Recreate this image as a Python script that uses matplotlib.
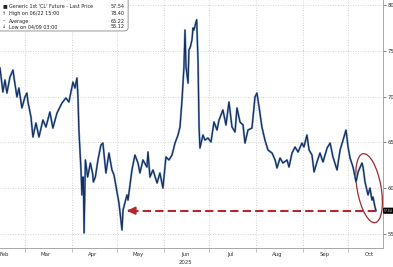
import numpy as np
import pandas as pd
import matplotlib
matplotlib.use("Agg")
import matplotlib.pyplot as plt
import matplotlib.dates as mdates
from matplotlib.patches import Ellipse, FancyBboxPatch
from matplotlib.transforms import ScaledTranslation, blended_transform_factory

plt.rcParams['font.family'] = ['DejaVu Sans']

# WTI generic 1st future
dates = [
    "2025-02-12 12:00", "2025-02-14 10:00", "2025-02-15 19:00", "2025-02-17 02:00", "2025-02-19 02:00",
    "2025-02-21 02:00", "2025-02-21 17:00", "2025-02-23 17:00", "2025-02-25 00:00", "2025-02-27 00:00",
    "2025-03-01 00:00", "2025-03-02 07:00", "2025-03-03 00:00", "2025-03-05 00:00", "2025-03-06 07:00",
    "2025-03-08 07:00", "2025-03-10 07:00", "2025-03-12 22:00", "2025-03-14 22:00", "2025-03-17 12:00",
    "2025-03-19 12:00", "2025-03-22 05:00", "2025-03-25 12:00", "2025-03-28 02:00", "2025-03-30 02:00",
    "2025-04-01 19:00", "2025-04-03 02:00", "2025-04-04 10:00", "2025-04-05 02:00", "2025-04-05 17:00",
    "2025-04-07 02:00", "2025-04-07 17:00", "2025-04-08 10:00", "2025-04-08 18:00", "2025-04-09 03:00",
    "2025-04-10 00:00", "2025-04-11 12:00", "2025-04-13 07:00", "2025-04-14 17:00", "2025-04-15 07:00",
    "2025-04-16 14:00", "2025-04-18 07:00", "2025-04-20 07:00", "2025-04-21 14:00", "2025-04-23 14:00",
    "2025-04-25 14:00", "2025-04-27 14:00", "2025-04-28 22:00", "2025-04-30 22:00", "2025-05-02 05:00",
    "2025-05-04 05:00", "2025-05-04 22:00", "2025-05-07 12:00", "2025-05-08 05:00", "2025-05-10 19:00",
    "2025-05-12 19:00", "2025-05-14 19:00", "2025-05-16 02:00", "2025-05-18 02:00", "2025-05-20 17:00",
    "2025-05-21 10:00", "2025-05-22 17:00", "2025-05-24 17:00", "2025-05-27 10:00", "2025-05-29 07:00",
    "2025-05-31 07:00", "2025-06-02 07:00", "2025-06-04 07:00", "2025-06-06 07:00", "2025-06-08 07:00",
    "2025-06-10 07:00", "2025-06-11 14:00", "2025-06-12 22:00", "2025-06-14 05:00", "2025-06-14 22:00",
    "2025-06-15 14:00", "2025-06-16 22:00", "2025-06-17 12:00", "2025-06-18 10:00", "2025-06-19 12:00",
    "2025-06-20 05:00", "2025-06-20 19:00", "2025-06-22 15:00", "2025-06-23 12:00", "2025-06-24 05:00",
    "2025-06-24 19:00", "2025-06-26 19:00", "2025-06-28 02:00", "2025-06-30 02:00", "2025-07-02 02:00",
    "2025-07-04 02:00", "2025-07-06 02:00", "2025-07-07 10:00", "2025-07-10 00:00", "2025-07-12 00:00",
    "2025-07-14 00:00", "2025-07-16 00:00", "2025-07-18 00:00", "2025-07-19 07:00", "2025-07-21 07:00",
    "2025-07-23 07:00", "2025-07-24 14:00", "2025-07-26 14:00", "2025-07-29 05:00", "2025-07-31 05:00",
    "2025-08-01 12:00", "2025-08-02 22:00", "2025-08-04 19:00", "2025-08-06 19:00", "2025-08-08 19:00",
    "2025-08-11 12:00", "2025-08-13 12:00", "2025-08-14 19:00", "2025-08-16 19:00", "2025-08-18 17:00",
    "2025-08-21 10:00", "2025-08-22 17:00", "2025-08-24 17:00", "2025-08-26 17:00", "2025-08-28 17:00",
    "2025-08-31 07:00", "2025-09-01 14:00", "2025-09-03 14:00", "2025-09-05 00:00", "2025-09-06 22:00",
    "2025-09-08 07:00", "2025-09-10 05:00", "2025-09-12 05:00", "2025-09-14 05:00", "2025-09-16 22:00",
    "2025-09-18 22:00", "2025-09-20 19:00", "2025-09-23 12:00", "2025-09-25 12:00", "2025-09-27 12:00",
    "2025-09-29 10:00", "2025-09-30 19:00", "2025-10-02 02:00", "2025-10-04 02:00", "2025-10-06 02:00",
    "2025-10-07 10:00", "2025-10-10 00:00", "2025-10-10 17:00", "2025-10-12 00:00", "2025-10-14 00:00",
    "2025-10-15 07:00", "2025-10-16 14:00", "2025-10-17 07:00", "2025-10-18 14:00", "2025-10-19 07:00",
]
prices = [
    73.12, 70.50, 71.81, 70.39, 72.14, 72.90, 72.14, 69.96, 70.94, 68.76,
    69.96, 70.39, 69.41, 67.77, 65.59, 67.12, 65.59, 67.45, 66.68, 68.32,
    66.57, 68.21, 69.30, 69.85, 69.41, 71.59, 70.94, 72.03, 69.96, 66.35,
    61.99, 59.26, 61.22, 60.13, 55.12, 63.08, 61.22, 62.75, 61.66, 60.68,
    61.22, 63.08, 64.72, 64.93, 61.66, 63.84, 61.99, 61.44, 59.59, 58.38,
    55.44, 57.62, 59.26, 58.71, 61.99, 63.62, 62.75, 61.66, 63.08, 62.31,
    63.95, 61.22, 61.99, 60.57, 61.66, 60.02, 63.41, 63.08, 63.62, 64.93,
    65.81, 66.68, 69.63, 73.23, 77.27, 73.23, 71.48, 75.09, 75.41, 76.18,
    77.49, 77.27, 78.40, 74.00, 66.68, 64.39, 65.81, 65.26, 65.48, 65.04,
    67.23, 66.35, 67.45, 68.54, 66.90, 69.41, 66.68, 66.14, 68.76, 67.23,
    66.90, 64.93, 66.35, 66.57, 69.96, 70.39, 68.86, 66.68, 65.26, 64.17,
    63.84, 63.08, 62.21, 63.30, 62.75, 63.08, 62.31, 63.84, 64.50, 63.95,
    64.93, 64.50, 65.81, 64.17, 63.62, 61.77, 62.86, 63.84, 62.86, 64.39,
    64.93, 63.41, 61.99, 64.17, 65.26, 66.35, 64.50, 63.30, 62.31, 60.68,
    61.77, 62.75, 62.31, 60.68, 59.26, 60.02, 58.71, 59.04, 57.95, 57.54,
]

legend_labels = ["Generic 1st 'CL' Future - Last Price", "High on 06/22 15:00", "Average", "Low on 04/09 03:00"]
legend_values = ["57.54", "78.40", "65.22", "55.12"]
legend_marks = ["\u25A0", "\u2191", "\u2013", "\u2193"]
last_price = 57.54
arrow_to = "2025-05-07 12:00"

t = pd.to_datetime(dates)

fig = plt.figure(figsize=(3.93, 2.67), dpi=100)
ax = fig.add_axes([0.0, 0.0712, 0.9746, 0.9288])

ax.plot(t, prices, color='#7ea5d4', lw=1.5)
ax.plot(t, prices, color='#172c58', lw=0.85)

ax.set_xlim(pd.Timestamp("2025-02-12 12:00"), pd.Timestamp("2025-10-23 22:00"))
ax.set_ylim(53.47, 80.55)

# grid + axes look
ax.xaxis.set_major_locator(mdates.MonthLocator())
ax.xaxis.set_major_formatter(plt.NullFormatter())
ax.xaxis.set_minor_locator(mdates.MonthLocator(bymonthday=15))
ax.xaxis.set_minor_formatter(mdates.DateFormatter('%b'))
ax.tick_params(axis='x', which='minor', length=0, labelsize=3.9, labelcolor='#333333', pad=3)
ax.tick_params(axis='x', which='major', length=3, width=0.5, color='#aaaaaa')
ax.yaxis.tick_right()
ax.set_yticks([55, 60, 65, 70, 75, 80])
ax.tick_params(axis='y', length=2, width=0.5, color='#555555', labelsize=3.8, labelcolor='#333333', pad=1)
ax.grid(True, which='major', color='#c4c4c4', lw=0.6, ls=(0, (1, 2)))
for s in ['top', 'left']:
    ax.spines[s].set_visible(False)
for s in ['right', 'bottom']:
    ax.spines[s].set_color('#999999')
    ax.spines[s].set_linewidth(0.6)

trans = blended_transform_factory(ax.transData, ax.transAxes)
ax.text(pd.Timestamp("2025-06-15"), -0.06, "2025", transform=trans, ha='center', va='center',
        fontsize=3.9, color='#333333')

# last price tag
ax.annotate(f"{last_price:.2f}", xy=(1, last_price), xycoords=('axes fraction', 'data'),
            xytext=(0.8, 0), textcoords='offset points', ha='left', va='center', fontsize=2.2,
            color='white', annotation_clip=False,
            bbox=dict(boxstyle='round,pad=0.12', fc='black', ec='black'))

# red dashed arrow back to the May low
red = '#b3282d'
ax.plot([t[-1], pd.Timestamp("2025-05-09")], [last_price, last_price], color=red, lw=1.5, ls=(0, (4, 2)))
ax.annotate('', xy=(pd.Timestamp(arrow_to), last_price), xytext=(pd.Timestamp("2025-05-11"), last_price),
            arrowprops=dict(arrowstyle='-|>,head_length=0.45,head_width=0.22', color=red, lw=1.5))

# circle round the October slide
cx = mdates.date2num(pd.Timestamp("2025-10-14 17:00"))
ell = Ellipse((0, 0), width=0.24, height=0.70, angle=10, fill=False, ec='#9b2a2e', lw=0.9,
              transform=fig.dpi_scale_trans + ScaledTranslation(cx, 60.0, ax.transData))
ax.add_patch(ell)

# legend box top-left
box = FancyBboxPatch((-0.01, 0.884), 0.336, 0.13, boxstyle='round,pad=0,rounding_size=0.012',
                     transform=fig.transFigure, fc='white', ec='#888888', lw=0.6, zorder=5)
fig.patches.append(box)
rows_y = [0.9775, 0.9476, 0.9213, 0.8989]
for m, lab, val, yy in zip(legend_marks, legend_labels, legend_values, rows_y):
    fig.text(0.006, yy, m, fontsize=3.6, color='#222222', va='center', ha='left', zorder=6)
    fig.text(0.024, yy, lab, fontsize=3.5, color='#222222', va='center', ha='left', zorder=6)
    fig.text(0.318, yy, val, fontsize=3.5, color='#222222', va='center', ha='right', zorder=6)

fig.savefig("out.png", dpi=100)
